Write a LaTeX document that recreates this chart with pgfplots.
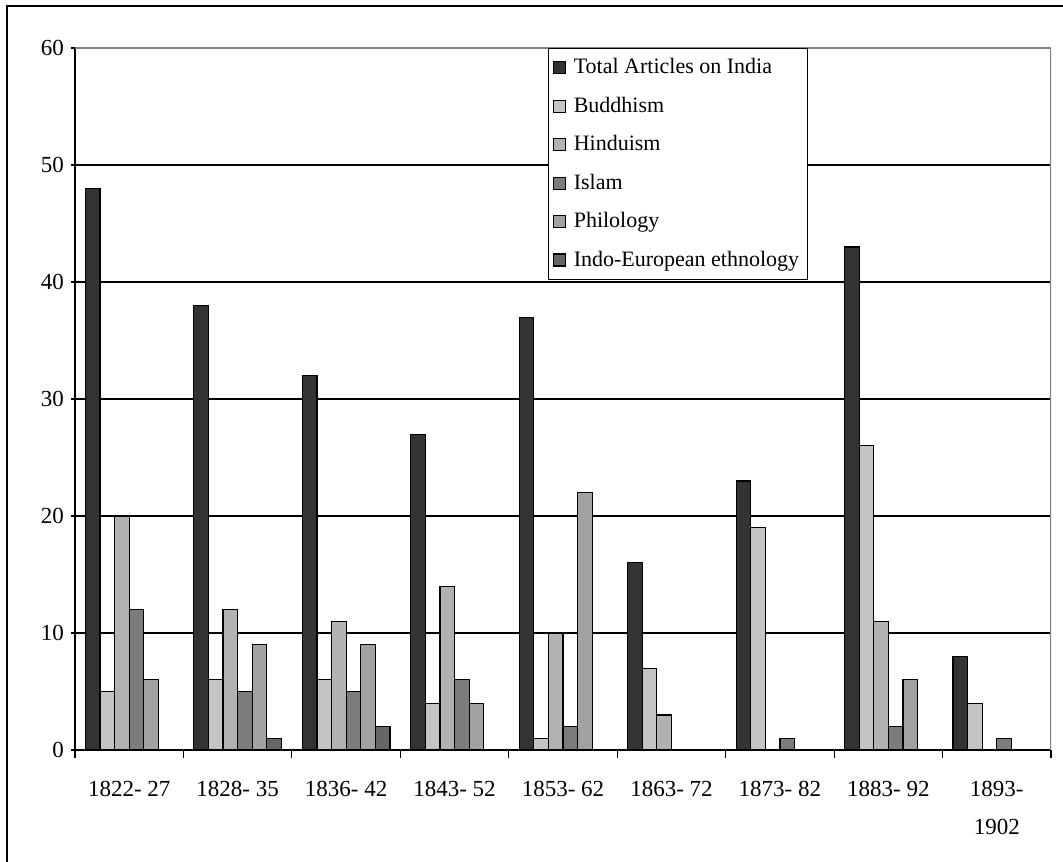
\documentclass[border=0pt]{standalone}
\usepackage{pgfplots}
\pgfplotsset{compat=1.18}
\usepackage{fontspec}
\setmainfont{Liberation Serif}

\definecolor{totalc}{HTML}{333333}
\definecolor{buddc}{HTML}{C4C4C4}
\definecolor{hinduc}{HTML}{B2B2B2}
\definecolor{islamc}{HTML}{7C7C7C}
\definecolor{philc}{HTML}{A2A2A2}
\definecolor{indoc}{HTML}{666666}

\begin{document}
\begin{tikzpicture}
\begin{axis}[
  scale only axis,
  width=488pt, height=351pt,
  xmin=-0.5, xmax=8.5,
  ymin=0, ymax=60,
  ytick={0,10,...,60},
  xtick={0,...,8},
  xticklabels={1822- 27,1828- 35,1836- 42,1843- 52,1853- 62,1863- 72,1873- 82,1883- 92,{1893-\\1902}},
  major x tick style={draw=none},
  extra x ticks={-0.5,0.5,...,8.5},
  extra x tick labels={},
  extra x tick style={major tick length=4pt, tick align=outside, grid=none, major x tick style={draw=black}},
  tick align=outside,
  major tick length=4pt,
  tick style={black, line width=0.6pt},
  axis lines=left,
  axis line style={-, black, line width=0.8pt},
  ymajorgrids,
  grid style={black, line width=0.7pt},
  /pgf/number format/assume math mode=true,
  ticklabel style={font=\fontsize{11.5}{19}\selectfont},
  xticklabel style={align=center, yshift=-8pt},
  ybar=0pt,
  bar width=7.3pt,
  legend style={
    at={(0.4846,1.0)}, anchor=north west,
    draw=black, line width=0.6pt, fill=white,
    font=\fontsize{11}{12}\selectfont,
    row sep=6.1pt, inner xsep=2pt, inner ysep=3pt,
    legend cell align=left,
  },
  legend image code/.code={%
    \draw[#1, line width=0.6pt] (0pt,-3pt) rectangle (6pt,3pt);
    \path (8pt,0pt);},
  every axis plot/.append style={draw=black, line width=0.6pt},
]
% Total Articles on India
\addplot[fill=totalc] coordinates {(0,48) (1,38) (2,32) (3,27) (4,37) (5,16) (6,23) (7,43) (8,8)};
% Buddhism
\addplot[fill=buddc] coordinates {(0,5) (1,6) (2,6) (3,4) (4,1) (5,7) (6,19) (7,26) (8,4)};
% Hinduism
\addplot[fill=hinduc] coordinates {(0,20) (1,12) (2,11) (3,14) (4,10) (5,3) (7,11)};
% Islam
\addplot[fill=islamc] coordinates {(0,12) (1,5) (2,5) (3,6) (4,2) (6,1) (7,2) (8,1)};
% Philology
\addplot[fill=philc] coordinates {(0,6) (1,9) (2,9) (3,4) (4,22) (7,6)};
% Indo-European ethnology
\addplot[fill=indoc] coordinates {(1,1) (2,2)};
\legend{Total Articles on India,Buddhism,Hinduism,Islam,Philology,Indo-European ethnology}
% plot frame: top and right edges in grey
\draw[gray, line width=0.9pt] (rel axis cs:0,1) -- (rel axis cs:1,1) -- (rel axis cs:1,0);
\end{axis}
% outer frame (left and top edges) and page extent
\useasboundingbox (-37.5pt,-55.5pt) rectangle (494pt,375pt);
\draw[black, line width=1.1pt] (-34pt,-56pt) -- (-34pt,372pt) -- (495pt,372pt);
\end{tikzpicture}
\end{document}
